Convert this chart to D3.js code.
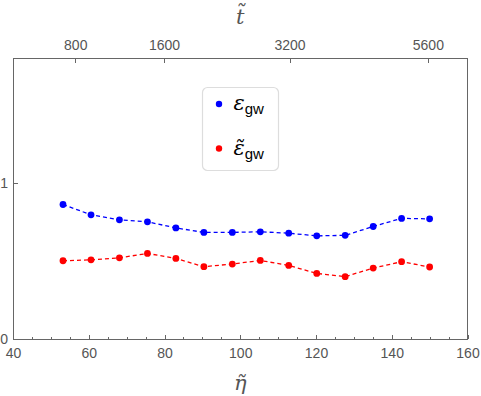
<!DOCTYPE html>
<meta charset="utf-8">
<style>
body { margin: 0; background: #fff; }
.tick text { font: 14px "Liberation Sans", Arial, sans-serif; fill: #555; }
.axis path, .axis line { stroke: #666; fill: none; shape-rendering: crispEdges; }
.frame { fill: none; stroke: #666; shape-rendering: crispEdges; }
.series-line { fill: none; stroke-width: 1.3px; stroke-dasharray: 4,3; }
.title { font: italic 21px "DejaVu Serif", "Liberation Serif", serif; fill: #555; }
.legend-box { fill: #fff; stroke: #ddd; stroke-width: 1.2px; }
.legend-text { font: italic 21px "DejaVu Serif", serif; fill: #000; }
.legend-sub { font: 15px "Liberation Sans", Arial, sans-serif; fill: #000; font-style: normal; }
</style>
<body>
<div id="chart"></div>
<script src="https://cdn.jsdelivr.net/npm/d3@7"></script>
<script>
// eta positions of the samples
var etaVals = [53.2, 60.6, 68.1, 75.5, 83.0, 90.4, 97.9, 105.3, 112.8, 120.2, 127.7, 135.1, 142.6, 150.0];
var epsGw = [0.863, 0.797, 0.765, 0.752, 0.713, 0.684, 0.684, 0.688, 0.679, 0.662, 0.665, 0.722, 0.774, 0.771];
var epsGwTilde = [0.502, 0.508, 0.521, 0.549, 0.517, 0.464, 0.481, 0.504, 0.472, 0.421, 0.400, 0.455, 0.496, 0.462];
var etaTicks = [40, 60, 80, 100, 120, 140, 160];
var tTicks = [800, 1600, 3200, 5600];
var yTicks = [0, 1];

var W = 481, H = 396,
    margin = {top: 58.5, right: 13.5, bottom: 57, left: 13},
    width = W - margin.left - margin.right,
    height = H - margin.top - margin.bottom;

var svg = d3.select("#chart").append("svg").attr("width", W).attr("height", H);
var g = svg.append("g").attr("transform", "translate(" + margin.left + "," + margin.top + ")");

var x = d3.scaleLinear().domain([40, 160]).range([0, width]);
var y = d3.scaleLinear().domain([0, 1.8]).range([height, 0]);
// t = eta^2 / 4
var tToX = function(t) { return x(2 * Math.sqrt(t)); };

// minor ticks on the bottom
g.append("g").attr("class", "axis")
  .attr("transform", "translate(0," + height + ")")
  .call(d3.axisBottom(x).tickValues(d3.range(45, 160, 5).filter(function(v) { return v % 20 != 0; }))
    .tickSize(-2.5).tickFormat(""))
  .select(".domain").remove();

g.append("g").attr("class", "axis")
  .attr("transform", "translate(0," + height + ")")
  .call(d3.axisBottom(x).tickValues(etaTicks).tickSizeInner(-4.5).tickSizeOuter(0).tickPadding(9))
  .select(".domain").remove();

// top axis, t-tilde
var topAxis = g.append("g").attr("class", "axis");
topAxis.selectAll("line").data(tTicks).enter().append("line")
  .attr("x1", tToX).attr("x2", tToX).attr("y1", 0).attr("y2", 4.5);
topAxis.selectAll("text").data(tTicks).enter().append("text")
  .attr("x", tToX).attr("y", -9)
  .attr("text-anchor", "middle")
  .style("font", "14px 'Liberation Sans', Arial, sans-serif").style("fill", "#555")
  .text(function(d) { return d; });

g.append("g").attr("class", "axis")
  .call(d3.axisLeft(y).tickValues(yTicks).tickFormat(d3.format("d"))
    .tickSizeInner(-5).tickSizeOuter(0).tickPadding(5))
  .select(".domain").remove();

g.append("rect").attr("class", "frame").attr("x", 0).attr("y", 0)
  .attr("width", width).attr("height", height);

// axis titles
svg.append("text").attr("class", "title").attr("x", margin.left + width / 2).attr("y", 24)
  .attr("text-anchor", "middle").text("t\u0303");
svg.append("text").attr("class", "title").attr("x", margin.left + width / 2).attr("y", 390)
  .attr("text-anchor", "middle").text("\u03b7\u0303");

var series = [
  {vals: epsGw, color: "#0000ff"},
  {vals: epsGwTilde, color: "#ff0000"}
];
var line = d3.line().x(function(d) { return x(d[0]); }).y(function(d) { return y(d[1]); });

series.forEach(function(s) {
  var pts = etaVals.map(function(e, i) { return [e, s.vals[i]]; });
  g.append("path").attr("class", "series-line").attr("d", line(pts)).style("stroke", s.color);
  g.selectAll(null).data(pts).enter().append("circle")
    .attr("cx", function(d) { return x(d[0]); })
    .attr("cy", function(d) { return y(d[1]); })
    .attr("r", 3.4).style("fill", s.color);
});

// legend
var leg = svg.append("g").attr("transform", "translate(202.5,87.5)");
leg.append("rect").attr("class", "legend-box").attr("width", 76).attr("height", 83).attr("rx", 5);
var items = [{label: "\u03b5", color: "#0000ff", cy: 16.5}, {label: "\u03b5\u0303", color: "#ff0000", cy: 61}];
items.forEach(function(it) {
  leg.append("circle").attr("cx", 16.5).attr("cy", it.cy).attr("r", 3.2).style("fill", it.color);
  var t = leg.append("text").attr("class", "legend-text").attr("x", 31).attr("y", it.cy + 6);
  t.append("tspan").text(it.label);
  t.append("tspan").attr("class", "legend-sub").attr("dy", 4).text("gw");
});
</script>
</body>
